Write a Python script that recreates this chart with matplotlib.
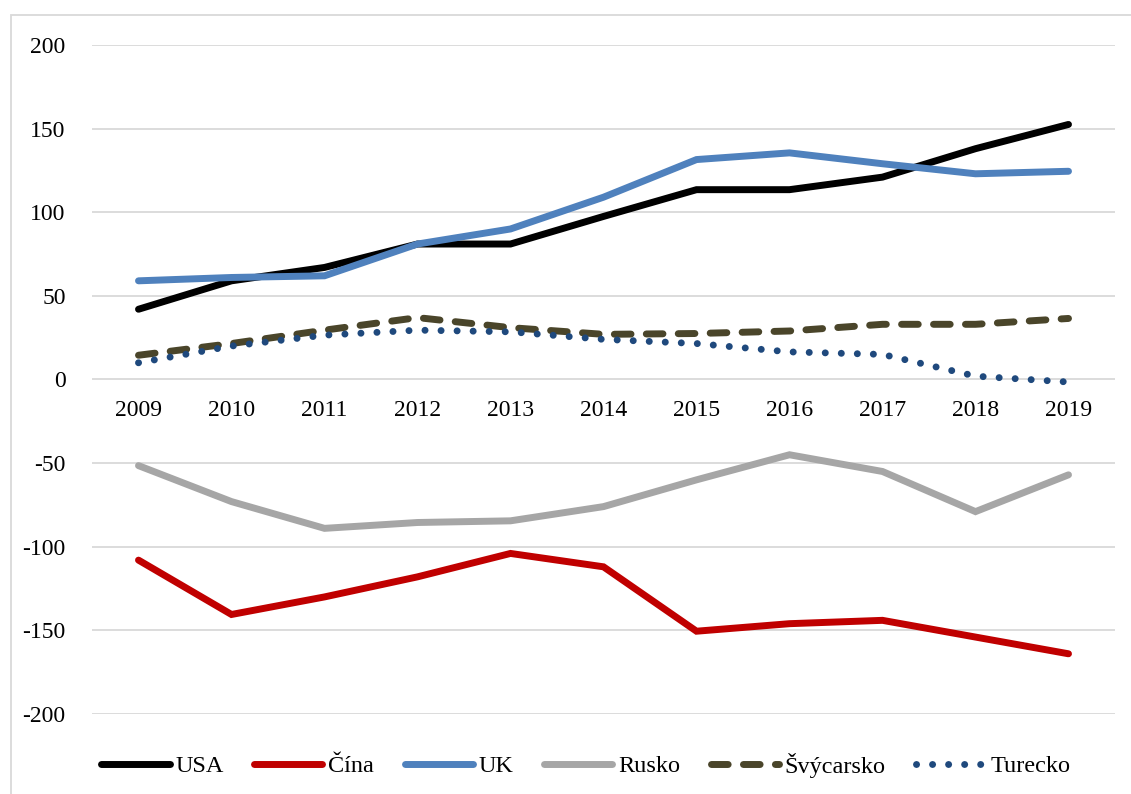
import numpy as np
import matplotlib
matplotlib.use('Agg')
import matplotlib.pyplot as plt
from matplotlib.patches import Rectangle

plt.rcParams['font.family'] = ['Liberation Serif', 'DejaVu Serif']
plt.rcParams['axes.unicode_minus'] = False

years = ['2009', '2010', '2011', '2012', '2013', '2014', '2015', '2016', '2017', '2018', '2019']

usa = [42, 59, 67, 81, 81, 97.5, 113.5, 113.5, 121, 138, 152.5]
cina = [-108, -140.5, -130, -118, -104, -112, -150.5, -146, -144, -154, -164]
uk = [59, 61, 62, 81, 90, 109, 131.5, 135.5, 129, 123, 124.5]
rusko = [-51.5, -73, -89, -85.5, -84.5, -76, -60, -45, -55, -79, -57]
svycarsko = [14.5, 21.5, 29.5, 37, 31, 27, 27.5, 29, 33, 33, 36.5]
turecko = [10, 20, 26.5, 29.5, 28.5, 24, 21.5, 16.5, 15, 2, -1.5]

series = [
    ('USA', usa, '#000000', '-'),
    ('Čína', cina, '#C00000', '-'),
    ('UK', uk, '#4F81BD', '-'),
    ('Rusko', rusko, '#A6A6A6', '-'),
    ('Švýcarsko', svycarsko, '#4A452A', (0, (2.4, 2.2))),
    ('Turecko', turecko, '#1F497D', (0, (0.01, 2.3))),
]

W, H = 1131, 794
fig = plt.figure(figsize=(W / 100, H / 100), dpi=100)
ax = fig.add_axes([92 / W, 1 - 714 / H, (1115 - 92) / W, (714 - 45) / H])

x = np.arange(len(years))
for name, vals, col, ls in series:
    ax.plot(x, vals, color=col, lw=5, ls=ls, label=name,
            solid_capstyle='round', dash_capstyle='round', solid_joinstyle='miter')

ax.set_xlim(-0.5, len(years) - 0.5)
ax.set_ylim(-200, 200)
ax.set_yticks(np.arange(-200, 201, 50))
ax.yaxis.grid(True, color='#D9D9D9', lw=1.3)
ax.set_axisbelow(True)
ax.tick_params(axis='y', length=0, pad=19, labelsize=17)
ax.set_xticks([])
for s in ax.spines.values():
    s.set_visible(False)

# category labels sit just below the zero line
for i, yr in enumerate(years):
    ax.text(i, -12, yr, ha='center', va='top', fontsize=17)

# chart area border
fig.patches.append(Rectangle((11 / W, -0.1), 1.2, 1 - 15 / H + 0.1, transform=fig.transFigure,
                             fill=False, edgecolor='#D9D9D9', lw=1.3))

fig.legend(loc='center', bbox_to_anchor=(0.518, 1 - 765 / H), ncol=6, frameon=False,
           fontsize=17.5, handlelength=2.8, handletextpad=0.25, columnspacing=1.25)

fig.savefig('out.png', dpi=100)
